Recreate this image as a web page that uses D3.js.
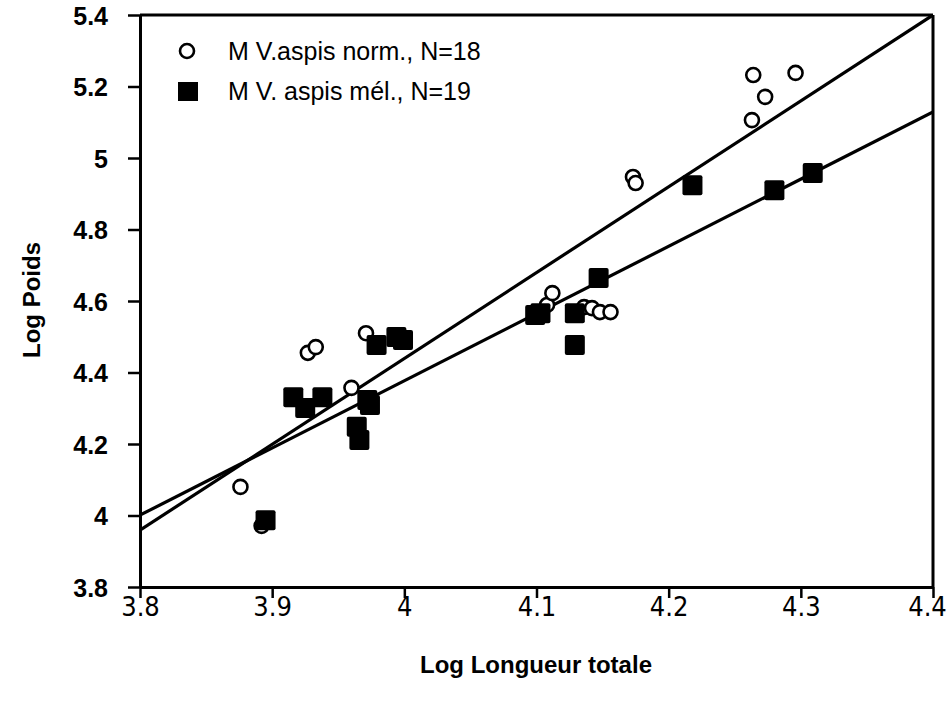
<!DOCTYPE html>
<html>
<head>
<meta charset="utf-8">
<script src="https://cdn.jsdelivr.net/npm/d3@7"></script>
<style>
  body { margin: 0; background: #fff; }
  text { font-family: "Liberation Sans", Arial, sans-serif; fill: #000; }
</style>
</head>
<body>
<div id="plot"></div>
<script>
// normal males (open circles)
var normX = [3.876, 3.892, 3.927, 3.933, 3.960, 3.971, 4.108, 4.112, 4.136, 4.142, 4.148, 4.156, 4.173, 4.175, 4.264, 4.296, 4.273, 4.263];
var normY = [4.080, 3.971, 4.455, 4.471, 4.357, 4.510, 4.589, 4.622, 4.583, 4.580, 4.569, 4.569, 4.947, 4.930, 5.232, 5.238, 5.171, 5.106];
// melanic males (filled squares)
var melX = [3.895, 3.916, 3.925, 3.938, 3.964, 3.966, 3.972, 3.974, 3.979, 3.994, 3.999, 4.099, 4.103, 4.129, 4.129, 4.147, 4.218, 4.280, 4.309];
var melY = [3.987, 4.331, 4.301, 4.331, 4.248, 4.211, 4.323, 4.309, 4.477, 4.499, 4.491, 4.561, 4.566, 4.566, 4.477, 4.664, 4.924, 4.910, 4.958];
// regression lines: [value at 3.8, value at 4.4]
var normLine = [3.959, 5.400];
var melLine = [4.001, 5.129];
var xTicks = [3.8, 3.9, 4.0, 4.1, 4.2, 4.3, 4.4];
var yTicks = [3.8, 4.0, 4.2, 4.4, 4.6, 4.8, 5.0, 5.2, 5.4];
var legendLabels = ["M V.aspis norm., N=18", "M V. aspis mél., N=19"];

var W = 951, H = 709;
var margin = {top: 15, right: 18, bottom: 122, left: 140};
var width = W - margin.left - margin.right,
    height = H - margin.top - margin.bottom;

var svg = d3.select("#plot").append("svg")
    .attr("width", W).attr("height", H);
var g = svg.append("g")
    .attr("transform", `translate(${margin.left},${margin.top})`);

var x = d3.scaleLinear().domain([3.8, 4.4]).range([0, width]);
var y = d3.scaleLinear().domain([3.8, 5.4]).range([height, 0]);

g.append("defs").append("clipPath").attr("id", "clip")
  .append("rect").attr("width", width).attr("height", height);

// frame top / right
g.append("line").attr("x1", 0).attr("x2", width).attr("y1", 0).attr("y2", 0)
  .attr("stroke", "#000").attr("stroke-width", 3);
g.append("line").attr("x1", width).attr("x2", width).attr("y1", 0).attr("y2", height)
  .attr("stroke", "#000").attr("stroke-width", 3);

var fmt = d => String(+d.toFixed(1));
var xAxis = g.append("g")
  .attr("transform", `translate(0,${height})`)
  .call(d3.axisBottom(x).tickValues(xTicks).tickSize(11).tickSizeOuter(0).tickFormat(fmt));
var yAxis = g.append("g")
  .call(d3.axisLeft(y).tickValues(yTicks).tickSize(12).tickSizeOuter(0).tickFormat(fmt));

[xAxis, yAxis].forEach(function(a) {
  a.select(".domain").attr("stroke-width", 3);
  a.selectAll(".tick line").attr("stroke-width", 2.5);
  a.selectAll("text").style("font-family", "Liberation Sans, Arial, sans-serif");
});
xAxis.selectAll("text").attr("y", 10).attr("dy", "0.71em")
  .style("font-size", "27px").style("font-stretch", "condensed")
  .style("font-family", "'Liberation Sans Narrow', 'DejaVu Sans Condensed', 'Liberation Sans', sans-serif");
// keep the last label inside the page
xAxis.selectAll(".tick").filter(d => d === 4.4).select("text").attr("dx", -6);
yAxis.selectAll("text").attr("x", -32).attr("dy", "0.36em")
  .style("font-size", "25px").style("font-weight", "bold");

// regression lines
var lines = g.append("g").attr("clip-path", "url(#clip)");
[normLine, melLine].forEach(function(l) {
  lines.append("line")
    .attr("x1", x(3.8)).attr("y1", y(l[0]))
    .attr("x2", x(4.4)).attr("y2", y(l[1]))
    .attr("stroke", "#000").attr("stroke-width", 3.2);
});

// points
var norm = normX.map((d, i) => ({x: d, y: normY[i]}));
var mel = melX.map((d, i) => ({x: d, y: melY[i]}));

g.selectAll("circle.norm").data(norm).join("circle")
  .attr("class", "norm")
  .attr("cx", d => x(d.x)).attr("cy", d => y(d.y)).attr("r", 7)
  .attr("fill", "#fff").attr("stroke", "#000").attr("stroke-width", 2.6);

var s = 20;
g.selectAll("rect.mel").data(mel).join("rect")
  .attr("class", "mel")
  .attr("x", d => x(d.x) - s / 2).attr("y", d => y(d.y) - s / 2)
  .attr("width", s).attr("height", s).attr("rx", 2)
  .attr("fill", "#000");

// legend
var leg = svg.append("g");
leg.append("circle").attr("cx", 187).attr("cy", 51).attr("r", 7)
  .attr("fill", "#fff").attr("stroke", "#000").attr("stroke-width", 2.6);
leg.append("rect").attr("x", 178).attr("y", 82).attr("width", 20).attr("height", 19)
  .attr("fill", "#000");
leg.selectAll("text").data(legendLabels).join("text")
  .attr("x", 228).attr("y", (d, i) => 60 + i * 40)
  .style("font-size", "25px")
  .text(d => d);

// axis titles
svg.append("text")
  .attr("x", 536).attr("y", 673)
  .attr("text-anchor", "middle")
  .style("font-size", "24px").style("font-weight", "bold")
  .text("Log Longueur totale");
svg.append("text")
  .attr("transform", `translate(40,300) rotate(-90)`)
  .attr("text-anchor", "middle")
  .style("font-size", "24px").style("font-weight", "bold")
  .text("Log Poids");
</script>
</body>
</html>
